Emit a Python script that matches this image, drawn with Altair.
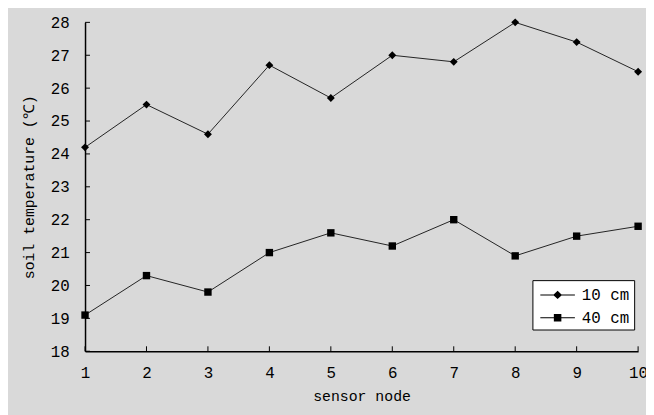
import altair as alt
import pandas as pd

nodes = [1, 2, 3, 4, 5, 6, 7, 8, 9, 10]
temp_10cm = [24.2, 25.5, 24.6, 26.7, 25.7, 27.0, 26.8, 28.0, 27.4, 26.5]
temp_40cm = [19.1, 20.3, 19.8, 21.0, 21.6, 21.2, 22.0, 20.9, 21.5, 21.8]
series_names = ["10 cm", "40 cm"]
y_ticks = [18, 19, 20, 21, 22, 23, 24, 25, 26, 27, 28]
x_ticks = nodes

FONT = "Liberation Mono"
BG = "#d9d9d9"

rows = []
for n, a, b in zip(nodes, temp_10cm, temp_40cm):
    rows.append({"node": n, "temp": a, "series": series_names[0]})
    rows.append({"node": n, "temp": b, "series": series_names[1]})
df = pd.DataFrame(rows)

W, H = 560, 333
xs = alt.Scale(domain=[1, 10], nice=False, zero=False)
ys = alt.Scale(domain=[18, 28], nice=False, zero=False)

x_axis = alt.Axis(title="sensor node", values=x_ticks, format="d", ticks=False, tickSize=0,
                  grid=False, labelPadding=14, titlePadding=8, labelOverlap=False,
                  labelFlush=False, domainColor="#000000", domainWidth=1.5)
y_axis = alt.Axis(title="soil temperature (℃)", values=y_ticks, format="d", ticks=False,
                  tickSize=0, grid=False, labelPadding=16, titlePadding=14,
                  labelOverlap=False, labelFlush=False,
                  domainColor="#000000", domainWidth=1.5)

base = alt.Chart(df)

lines = base.mark_line(color="#222222", strokeWidth=1).encode(
    x=alt.X("node:Q", scale=xs, axis=x_axis),
    y=alt.Y("temp:Q", scale=ys, axis=y_axis),
    detail="series:N")

pts_10 = base.transform_filter(alt.datum.series == series_names[0]).mark_point(
    shape="diamond", filled=True, color="#000000", opacity=1, size=64).encode(
    x=alt.X("node:Q", scale=xs, axis=x_axis), y=alt.Y("temp:Q", scale=ys, axis=y_axis))
pts_40 = base.transform_filter(alt.datum.series == series_names[1]).mark_point(
    shape="square", filled=True, color="#000000", opacity=1, size=56).encode(
    x=alt.X("node:Q", scale=xs, axis=x_axis), y=alt.Y("temp:Q", scale=ys, axis=y_axis))

# legend layer (no data drawn; legend built from explicit scale domain)
# each symbol = thin filled bar (the line) + marker
leg_paths = [
    "M-0.7,-0.05H2.8V0.05H-0.7ZM1.05,-0.42L1.5,0L1.05,0.42L0.6,0Z",
    "M-0.7,-0.05H2.8V0.05H-0.7ZM0.67,-0.38H1.43V0.38H0.67Z",
]
legend_layer = base.transform_filter("datum.temp > 1000").mark_point(
    filled=True, color="#000000", opacity=1).encode(
    x=alt.X("node:Q", scale=xs, axis=x_axis), y=alt.Y("temp:Q", scale=ys, axis=y_axis),
    shape=alt.Shape("series:N",
                    scale=alt.Scale(domain=series_names, range=leg_paths),
                    legend=alt.Legend(title=None, orient="none", legendX=453, legendY=261,
                                      fillColor="#ffffff", strokeColor="#000000",
                                      padding=4, rowPadding=4, symbolSize=400,
                                      symbolFillColor="#000000",
                                      labelFont=FONT, labelFontSize=16,
                                      labelColor="#000000", labelOffset=24)))

ytick_df = pd.DataFrame({"t": y_ticks})
xtick_df = pd.DataFrame({"t": x_ticks})
yticks = alt.Chart(ytick_df).mark_rule(color="#000000", strokeWidth=1).encode(
    y=alt.Y("t:Q", scale=ys, axis=y_axis), x=alt.value(0), x2=alt.value(5))
xticks = alt.Chart(xtick_df).mark_rule(color="#000000", strokeWidth=1).encode(
    x=alt.X("t:Q", scale=xs, axis=x_axis), y=alt.value(H), y2=alt.value(H - 5))

chart = alt.layer(lines, pts_10, pts_40, legend_layer, yticks, xticks).properties(
    width=W, height=H,
    background=BG,
    padding={"left": 78, "top": 12, "right": 8, "bottom": 62},
    autosize=alt.AutoSizeParams(type="none"),
).configure_view(stroke=None, fill=BG).configure_axis(
    labelFont=FONT, labelFontSize=16, labelColor="#000000",
    titleFont=FONT, titleFontSize=15, titleFontWeight="normal", titleColor="#000000",
)

chart.save("out.html", embed_options={"renderer": "svg", "actions": False})
